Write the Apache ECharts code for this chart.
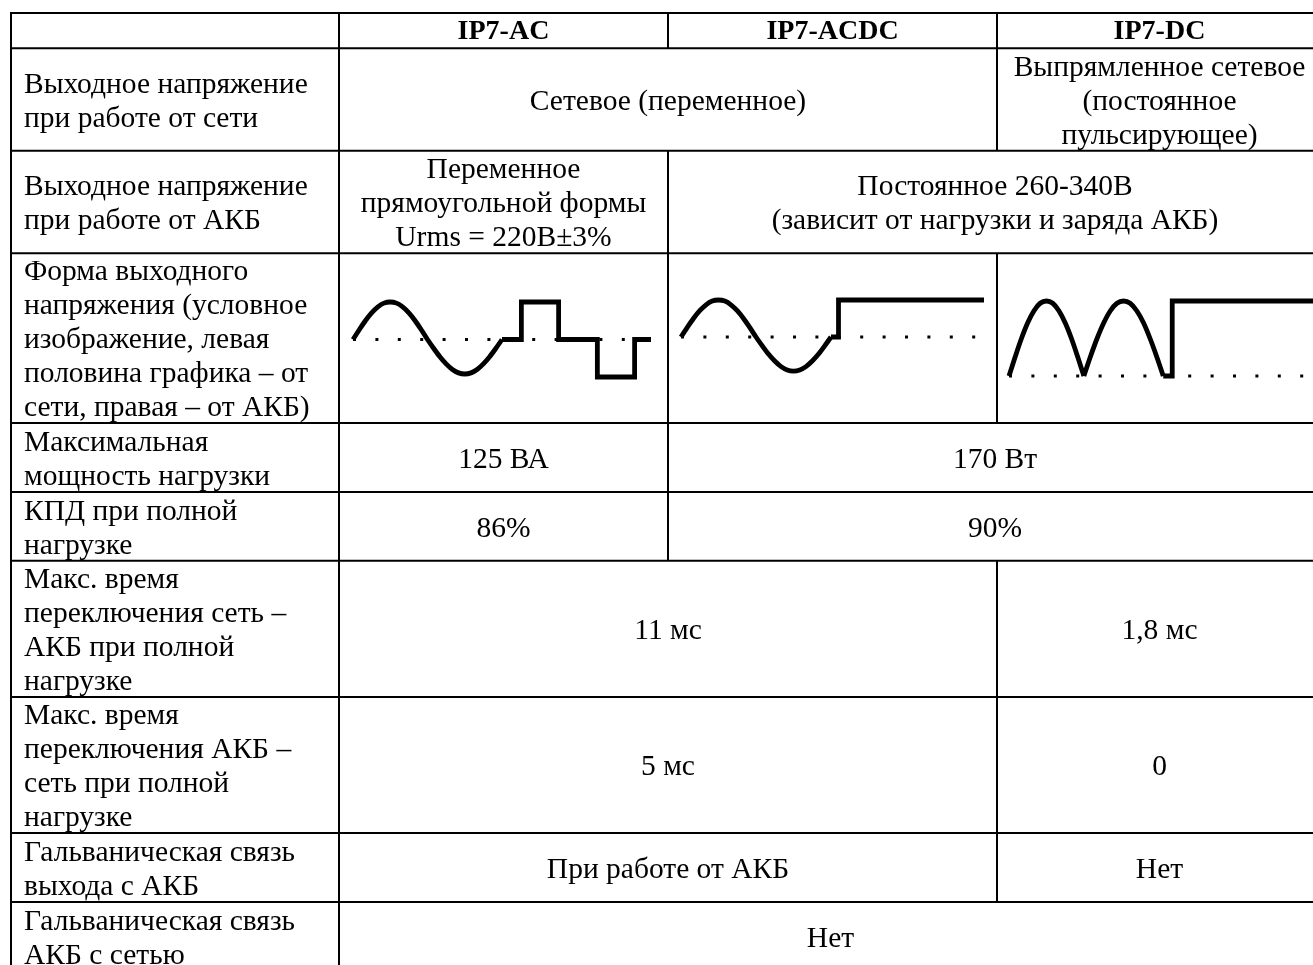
<!DOCTYPE html>
<html>
<head>
<meta charset="utf-8">
<script src="https://cdn.jsdelivr.net/npm/echarts@6/dist/echarts.min.js"></script>
<style>
  html, body { margin: 0; padding: 0; background: #ffffff; }
  #chart { width: 1313px; height: 965px; }
</style>
</head>
<body>
<div id="chart"></div>
<script>
// ---------- table content ----------
const columnHeaders = ['IP7-AC', 'IP7-ACDC', 'IP7-DC'];

const rowLabels = [
  'Выходное напряжение\nпри работе от сети',
  'Выходное напряжение\nпри работе от АКБ',
  'Форма выходного\nнапряжения (условное\nизображение, левая\nполовина графика – от\nсети, правая – от АКБ)',
  'Максимальная\nмощность нагрузки',
  'КПД при полной\nнагрузке',
  'Макс. время\nпереключения сеть –\nАКБ при полной\nнагрузке',
  'Макс. время\nпереключения АКБ –\nсеть при полной\nнагрузке',
  'Гальваническая связь\nвыхода с АКБ',
  'Гальваническая связь\nАКБ с сетью'
];

// cell text, first column index (1..3), number of columns spanned
const rowCells = [
  [['Сетевое (переменное)', 1, 2], ['Выпрямленное сетевое\n(постоянное\nпульсирующее)', 3, 1]],
  [['Переменное\nпрямоугольной формы\nUrms = 220В±3%', 1, 1], ['Постоянное 260-340В\n(зависит от нагрузки и заряда АКБ)', 2, 2]],
  [['', 1, 1], ['', 2, 1], ['', 3, 1]],
  [['125 ВА', 1, 1], ['170 Вт', 2, 2]],
  [['86%', 1, 1], ['90%', 2, 2]],
  [['11 мс', 1, 2], ['1,8 мс', 3, 1]],
  [['5 мс', 1, 2], ['0', 3, 1]],
  [['При работе от АКБ', 1, 2], ['Нет', 3, 1]],
  [['Нет', 1, 3]]
];

// ---------- waveform values (time in mains periods, voltage relative to peak) ----------
const acMainsWave = [
  [0, 0], [0.042, 0.26], [0.083, 0.5], [0.125, 0.71], [0.167, 0.87], [0.208, 0.97], [0.25, 1],
  [0.292, 0.97], [0.333, 0.87], [0.375, 0.71], [0.417, 0.5], [0.458, 0.26], [0.5, 0],
  [0.542, -0.24], [0.583, -0.46], [0.625, -0.65], [0.667, -0.8], [0.708, -0.89], [0.75, -0.92],
  [0.792, -0.89], [0.833, -0.8], [0.875, -0.65], [0.917, -0.46], [0.958, -0.24], [1, 0]
];
const acBatteryWave = [[1, 0], [1.13, 0], [1.13, 1], [1.38, 1], [1.38, 0], [1.64, 0], [1.64, -1], [1.89, -1], [1.89, 0], [2, 0]];
const acZeroLine = [[0, 0], [2, 0]];

const acdcMainsWave = [
  [0, 0], [0.042, 0.26], [0.083, 0.5], [0.125, 0.71], [0.167, 0.87], [0.208, 0.97], [0.25, 1],
  [0.292, 0.97], [0.333, 0.87], [0.375, 0.71], [0.417, 0.5], [0.458, 0.26], [0.5, 0],
  [0.542, -0.24], [0.583, -0.46], [0.625, -0.65], [0.667, -0.8], [0.708, -0.89], [0.75, -0.92],
  [0.792, -0.89], [0.833, -0.8], [0.875, -0.65], [0.917, -0.46], [0.958, -0.24], [1, 0]
];
const acdcBatteryWave = [[1, 0], [1.05, 0], [1.05, 1], [2.02, 1]];
const acdcZeroLine = [[0, 0], [2, 0]];

const dcMainsArc1 = [
  [0, 0], [0.042, 0.26], [0.083, 0.5], [0.125, 0.71], [0.167, 0.87], [0.208, 0.97], [0.25, 1],
  [0.292, 0.97], [0.333, 0.87], [0.375, 0.71], [0.417, 0.5], [0.458, 0.26], [0.5, 0]
];
const dcMainsArc2 = [
  [0.5, 0], [0.544, 0.26], [0.588, 0.5], [0.633, 0.71], [0.677, 0.87], [0.721, 0.97], [0.765, 1],
  [0.809, 0.97], [0.853, 0.87], [0.898, 0.71], [0.942, 0.5], [0.986, 0.26], [1.03, 0]
];
const dcBatteryWave = [[1.03, 0], [1.09, 0], [1.09, 1], [2.03, 1]];
const dcZeroLine = [[0, 0], [2, 0]];

// ---------- layout ----------
const colX = [11, 339, 668, 997, 1322];
const rowY = [13, 48.2, 150.7, 253.2, 423, 491.9, 560.7, 696.9, 833.1, 901.9, 970.7];
const FONT = '29.5px "Liberation Serif", "Times New Roman", serif';
const BOLD = 'bold 28px "Liberation Serif", "Times New Roman", serif';
const LH = 34;

const graphics = [];
function hLine(y, x1, x2) {
  graphics.push({ type: 'line', silent: true, z: 10,
    shape: { x1: x1, y1: y, x2: x2, y2: y },
    style: { stroke: '#000', lineWidth: 2 } });
}
function vLine(x, y1, y2) {
  graphics.push({ type: 'line', silent: true, z: 10,
    shape: { x1: x, y1: y1, x2: x, y2: y2 },
    style: { stroke: '#000', lineWidth: 2 } });
}
function text(str, x, y, align, font) {
  graphics.push({ type: 'text', silent: true, z: 11, x: 0, y: 0,
    style: { text: str, x: x, y: y, font: font,
      fill: '#000', textFill: '#000',
      align: align, textAlign: align,
      verticalAlign: 'middle', textVerticalAlign: 'middle',
      lineHeight: LH } });
}

// horizontal borders
rowY.forEach(function (y) { hLine(y, colX[0] - 1, colX[4] + 1); });
// outer + first column vertical lines
vLine(colX[0], rowY[0], rowY[rowY.length - 1]);
vLine(colX[1], rowY[0], rowY[rowY.length - 1]);
vLine(colX[4], rowY[0], rowY[rowY.length - 1]);

// header row
vLine(colX[2], rowY[0], rowY[1]);
vLine(colX[3], rowY[0], rowY[1]);
columnHeaders.forEach(function (h, i) {
  text(h, (colX[i + 1] + colX[i + 2]) / 2, (rowY[0] + rowY[1]) / 2 + 1.5, 'center', BOLD);
});

// body rows
rowLabels.forEach(function (label, r) {
  const top = rowY[r + 1], bottom = rowY[r + 2];
  const cy = (top + bottom) / 2 + 2.5;
  text(label, colX[0] + 13, cy, 'left', FONT);
  const cells = rowCells[r];
  cells.forEach(function (c) {
    const from = c[1], span = c[2];
    const x1 = colX[from], x2 = colX[from + span];
    if (c[0]) text(c[0], (x1 + x2) / 2, cy, 'center', FONT);
    if (from > 1) vLine(x1, top, bottom);
  });
});

// ---------- waveform plots ----------
function xAxisFor(idx, min, max) {
  return { type: 'value', gridIndex: idx, min: min, max: max, show: false,
    axisLine: { show: false }, splitLine: { show: false }, axisTick: { show: false }, axisLabel: { show: false } };
}
function yAxisFor(idx, min, max) {
  return { type: 'value', gridIndex: idx, min: min, max: max, show: false,
    axisLine: { show: false }, splitLine: { show: false }, axisTick: { show: false }, axisLabel: { show: false } };
}
function waveSeries(data, idx, smooth) {
  return { type: 'line', xAxisIndex: idx, yAxisIndex: idx, data: data,
    smooth: smooth, symbol: 'none', showSymbol: false, clip: false, silent: true, z: 3,
    lineStyle: { color: '#000', width: 4.8, join: 'miter', cap: 'butt' } };
}
function zeroSeries(data, idx) {
  return { type: 'line', xAxisIndex: idx, yAxisIndex: idx, data: data,
    symbol: 'none', showSymbol: false, clip: false, silent: true, z: 2,
    lineStyle: { color: '#000', width: 3, type: [3, 19.4], cap: 'butt' } };
}

const option = {
  backgroundColor: '#ffffff',
  animation: false,
  grid: [
    { left: 353, top: 302, width: 298, height: 75 },
    { left: 681, top: 300, width: 303, height: 74 },
    { left: 1009, top: 301, width: 304.5, height: 75 }
  ],
  xAxis: [xAxisFor(0, 0, 2), xAxisFor(1, 0, 2.02), xAxisFor(2, 0, 2.03)],
  yAxis: [yAxisFor(0, -1, 1), yAxisFor(1, -1, 1), yAxisFor(2, 0, 1)],
  series: [
    zeroSeries(acZeroLine, 0),
    waveSeries(acMainsWave, 0, 0.3),
    waveSeries(acBatteryWave, 0, false),
    zeroSeries(acdcZeroLine, 1),
    waveSeries(acdcMainsWave, 1, 0.3),
    waveSeries(acdcBatteryWave, 1, false),
    zeroSeries(dcZeroLine, 2),
    waveSeries(dcMainsArc1, 2, 0.3),
    waveSeries(dcMainsArc2, 2, 0.3),
    waveSeries(dcBatteryWave, 2, false)
  ],
  graphic: { elements: graphics }
};

const chart = echarts.init(document.getElementById('chart'), null, { renderer: 'canvas' });
chart.setOption(option);
</script>
</body>
</html>
